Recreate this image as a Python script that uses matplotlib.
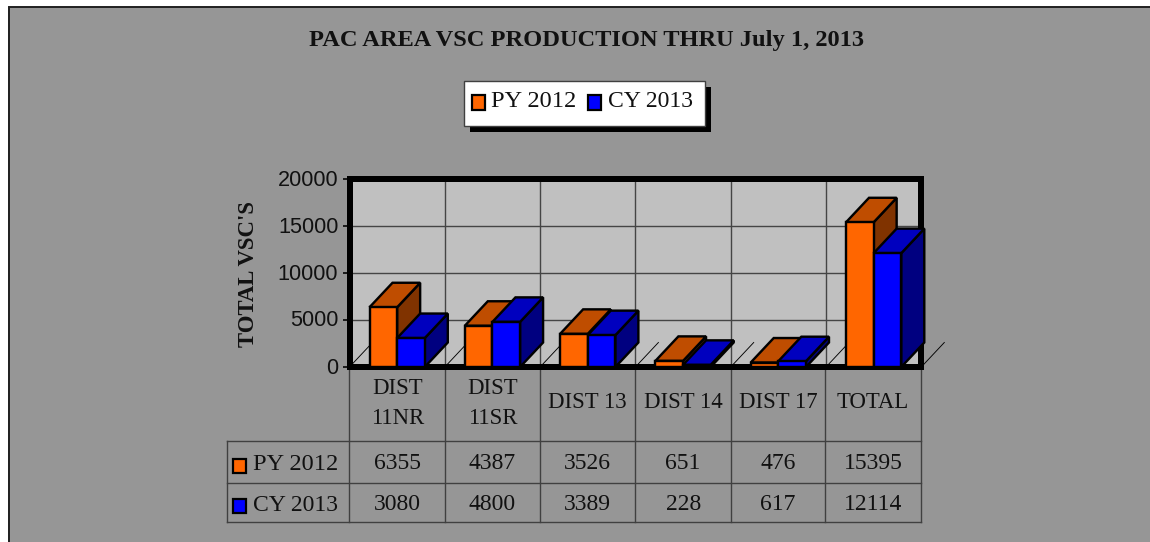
import matplotlib
matplotlib.use("Agg")
import matplotlib.pyplot as plt
from matplotlib.patches import Polygon, Rectangle
from matplotlib.transforms import ScaledTranslation

TITLE = "PAC AREA VSC PRODUCTION THRU July 1, 2013"
YLABEL = "TOTAL VSC'S"
categories = ["DIST\n11NR", "DIST\n11SR", "DIST 13", "DIST 14", "DIST 17", "TOTAL"]
py_2012 = [6355, 4387, 3526, 651, 476, 15395]
cy_2013 = [3080, 4800, 3389, 228, 617, 12114]
y_ticks = [0, 5000, 10000, 15000, 20000]

W, H = 1150, 542
BG = "#969696"
SER = "Liberation Serif"
SAN = "Liberation Sans"
ORANGE = ("#FF6600", "#BF4D00", "#803300")
BLUE = ("#0000FF", "#0000BF", "#000080")
PX = 72 / 100

fig = plt.figure(figsize=(W / 100, H / 100), dpi=100, facecolor="white")

# pixel overlay for page furniture and table
pg = fig.add_axes([0, 0, 1, 1], zorder=1)
pg.set_xlim(0, W); pg.set_ylim(H, 0); pg.axis("off")
pg.add_patch(Rectangle((8, 7), W - 8, H - 7, fc=BG, ec="none"))
pg.plot([8.5, 8.5, W], [H, 7, 7], color="#202020", lw=1.4, solid_joinstyle="miter")

# chart
L, R, T, B = 349.5, 921.3, 179, 367
ax = fig.add_axes([L / W, 1 - B / H, (R - L) / W, (B - T) / H], zorder=2)
ax.set_xlim(0, len(categories)); ax.set_ylim(0, 20000)
ax.set_facecolor("#C0C0C0")
for s in ax.spines.values():
    s.set_linewidth(6 * PX); s.set_color("black")
ax.set_yticks(y_ticks)
ax.set_yticklabels([str(v) for v in y_ticks], family=SAN, fontsize=15.6, color="#111111")
ax.set_xticks(range(1, len(categories)))
ax.tick_params(axis="x", length=0, labelbottom=False)
ax.tick_params(axis="y", length=7 * PX, width=1.6 * PX, pad=3)
shift = ScaledTranslation(0, 1.5 / 100, fig.dpi_scale_trans)
for lab in ax.get_yticklabels():
    lab.set_transform(lab.get_transform() + shift)
ax.grid(True, color="#454545", lw=1.4 * PX)
ax.set_axisbelow(True)

DX = 23 / ((R - L) / 6)
DY = 24.5 / ((B - T) / 20000)
BW = 0.29
X0 = 0.21


def bar3d(x, v, cols, z):
    front, top, side = cols
    ek = dict(ec="black", lw=2.4 * PX, joinstyle="miter", clip_on=False, zorder=z)
    ax.add_patch(Polygon([(x + BW, 0), (x + BW + DX, DY), (x + BW + DX, v + DY), (x + BW, v)], fc=side, **ek))
    ax.add_patch(Polygon([(x, v), (x + DX, v + DY), (x + BW + DX, v + DY), (x + BW, v)], fc=top, **ek))
    ax.bar(x, v, BW, align="edge", color=front, edgecolor="black", lw=2.4 * PX, clip_on=False, zorder=z + 0.1)


for i in range(len(categories) + 1):
    ax.plot([i, i + DX], [0, DY], color="black", lw=0.9 * PX, clip_on=False, zorder=3)
for i, (a, b) in enumerate(zip(py_2012, cy_2013)):
    bar3d(i + X0, a, ORANGE, 4 + i)
    bar3d(i + X0 + BW, b, BLUE, 4.5 + i)

# title and axis label
pg.text(586.5, 40.5, TITLE, family=SER, weight="bold", fontsize=17.6, ha="center", va="center", color="#111111")
pg.text(249, 274, YLABEL, family=SER, weight="bold", fontsize=16.4, rotation=90, ha="center", va="center", color="#111111")

# legend
pg.add_patch(Rectangle((469.5, 87), 241, 45, fc="black", ec="none"))
pg.add_patch(Rectangle((463.5, 81), 241, 45, fc="white", ec="#404040", lw=1))
for x, c, lab, tx, fs in [(471.5, ORANGE[0], "PY 2012", 491, 17.6), (588, BLUE[0], "CY 2013", 608, 17)]:
    pg.add_patch(Rectangle((x, 95), 13, 14.5, fc=c, ec="black", lw=1.6))
    pg.text(tx, 107, lab, family=SER, fontsize=fs, ha="left", va="baseline", color="#111111")

# data table
tc = "#404040"
vx = [349.3, 445.3, 539.5, 635.3, 731, 825.3, 921]
for x in vx:
    pg.plot([x, x], [370, 522], color=tc, lw=1)
pg.plot([226.7, 226.7], [441, 522], color=tc, lw=1)
for y in [441, 483, 522]:
    pg.plot([226.7, 921], [y, y], color=tc, lw=1)
for i, cat in enumerate(categories):
    cx = (vx[i] + vx[i + 1]) / 2
    parts = cat.split("\n")
    if len(parts) == 2:
        pg.text(cx, 388, parts[0], family=SER, fontsize=16.4, ha="center", va="center", color="#111111")
        pg.text(cx, 419, parts[1], family=SER, fontsize=16.4, ha="center", va="center", color="#111111")
    else:
        pg.text(cx, 402, cat, family=SER, fontsize=16.4, ha="center", va="center", color="#111111")
    pg.text(cx, 463.5, str(py_2012[i]), family=SER, fontsize=17, ha="center", va="center", color="#111111")
    pg.text(cx, 504.5, str(cy_2013[i]), family=SER, fontsize=17, ha="center", va="center", color="#111111")
for y, c, lab, fs in [(465.5, ORANGE[0], "PY 2012", 17.6), (506, BLUE[0], "CY 2013", 17)]:
    pg.add_patch(Rectangle((232.5, y - 7), 13, 14, fc=c, ec="black", lw=1.6))
    pg.text(253, y - 0.5, lab, family=SER, fontsize=fs, ha="left", va="center", color="#111111")

fig.savefig("out.png", dpi=100, facecolor="white")
